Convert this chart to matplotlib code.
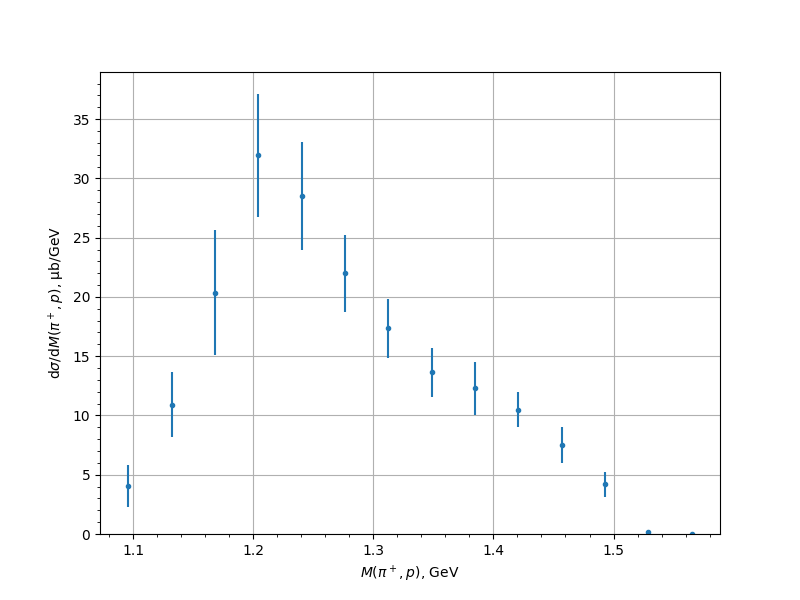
import numpy as np
import matplotlib
matplotlib.use('Agg')
import matplotlib.pyplot as plt

# invariant mass bins (GeV)
mass = [1.0958, 1.1320, 1.1681, 1.2042, 1.2403, 1.2764, 1.3125,
        1.3486, 1.3847, 1.4208, 1.4569, 1.4930, 1.5291, 1.5652]
# cross-section (mub/GeV) and errors
xsec = [4.05, 10.9, 20.35, 31.95, 28.5, 22.0, 17.35,
        13.65, 12.3, 10.5, 7.5, 4.2, 0.14, 0.0]
xsec_err = [1.73, 2.74, 5.27, 5.17, 4.55, 3.25, 2.5,
            2.08, 2.25, 1.5, 1.5, 1.05, 0.0, 0.0]

fig, ax = plt.subplots(figsize=(8, 6), dpi=100)
ax.errorbar(mass, xsec, yerr=xsec_err, fmt='.')
ax.set_ylim(bottom=0)
ax.minorticks_on()
ax.grid()
ax.set_xlabel(r'$M(\pi^+,p)$, GeV')
ax.set_ylabel(r'$\mathrm{d}\sigma/\mathrm{d}M(\pi^+,p)$, μb/GeV')

fig.savefig('out.png')
